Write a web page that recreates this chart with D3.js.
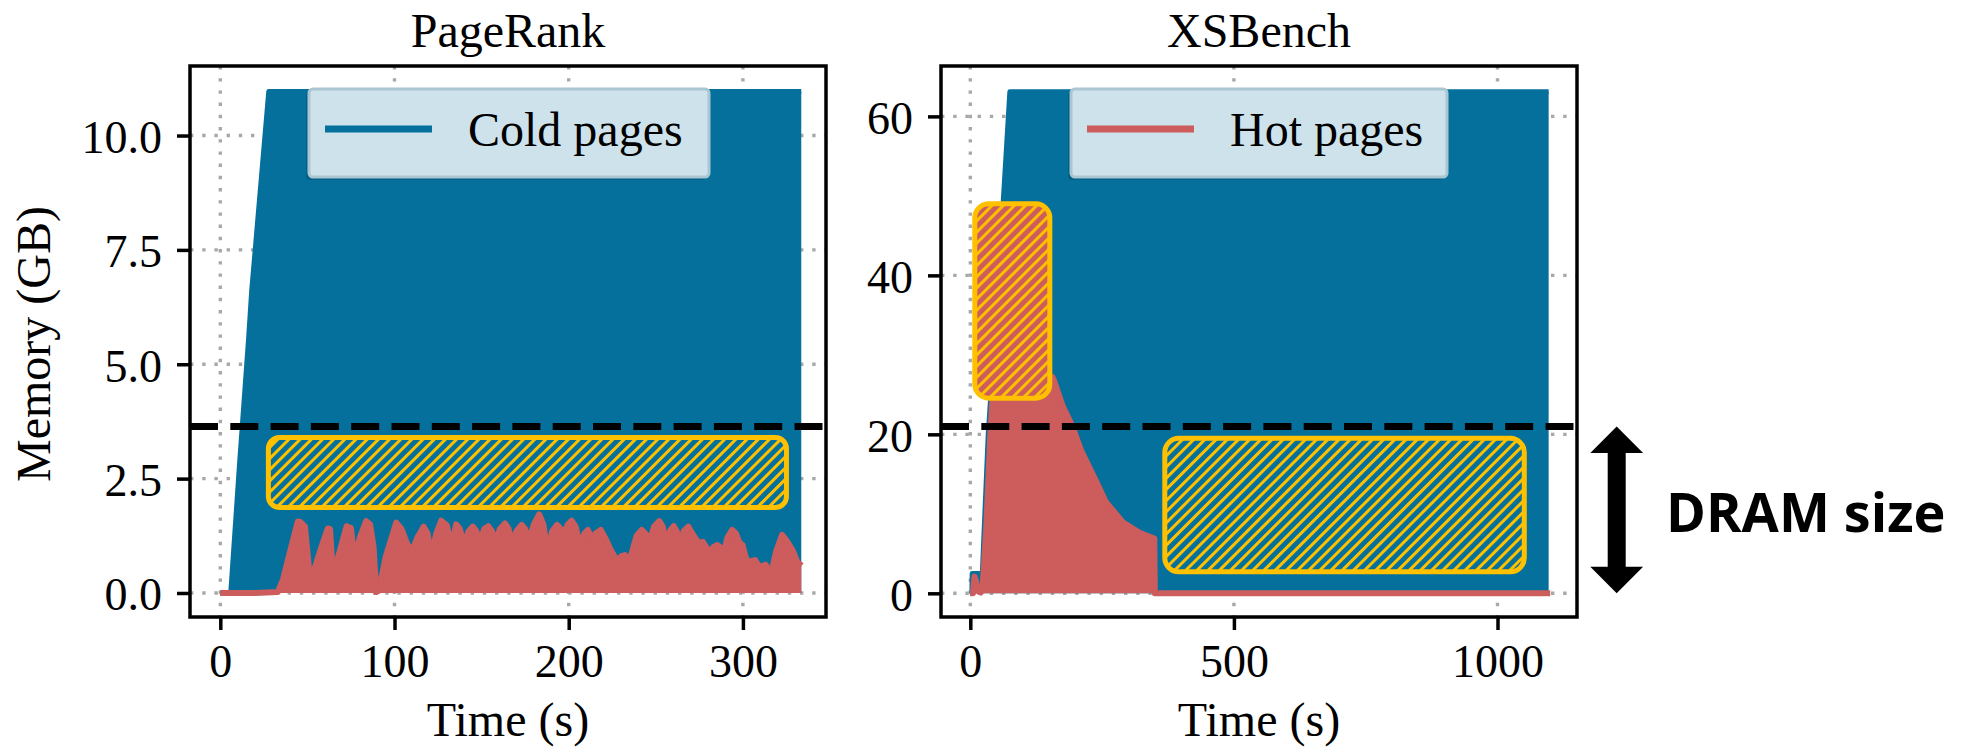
<!DOCTYPE html>
<html><head><meta charset="utf-8">
<script src="https://cdn.jsdelivr.net/npm/d3@7"></script>
<style>html,body{margin:0;padding:0;background:#fff;} svg{display:block}</style>
</head><body>
<svg id="chart" width="1972" height="747"></svg>
<script>
// ---------------- DATA ----------------
const titles = ["PageRank", "XSBench"];
const legendLabels = ["Cold pages", "Hot pages"];
const xLabel = "Time (s)";
const yLabel = "Memory (GB)";
const dramLabel = "DRAM size";

const prXTicks = [0, 100, 200, 300];
const prYTicks = [0, 2.5, 5, 7.5, 10];
const xsXTicks = [0, 500, 1000];
const xsYTicks = [0, 20, 40, 60];

// DRAM size (GB)
const prDram = 3.64;
const xsDram = 21.0;

// PageRank cold pages [time s, GB]
const prCold = [[0,0],[6,0],[11,2.8],[16.3,5.6],[18,6.6],[27.8,10.96],[333.5,10.96]];
// PageRank hot pages [time s, GB]
const prHot = [[0,0],[10,0],[20,0],[33,0.02],[36,0.3],[40,0.9],[44.5,1.56],[46,1.55],[48.6,1.45],[50,0.9],[51.5,0.3],[53,0.4],
 [58,1.0],[61.7,1.41],[63,1.4],[64.5,0.5],[67,0.7],[72.5,1.46],[75,1.42],[77,0.72],[80,1.2],[83.7,1.57],[86,1.5],[88,1.0],
 [89.5,0.02],[91,0.05],[95,0.8],[101,1.54],[104,1.4],[107,1.1],[110,0.9],[113,1.2],[116.7,1.45],[119,1.3],[121,0.8],[124,1.3],
 [126.8,1.58],[130,1.48],[132.8,1.01],[135.4,1.5],[137.5,1.4],[140,1.05],[142.5,1.35],[145,1.45],[147,1.35],[149,1.09],
 [151.5,1.4],[153.8,1.46],[156,1.35],[158,1.09],[160.5,1.4],[163.4,1.52],[165.5,1.4],[167.5,1.05],[170,1.35],[173,1.49],
 [175,1.4],[177,1.12],[180,1.5],[183,1.72],[185.5,1.5],[187.8,0.87],[190.5,1.35],[193.3,1.49],[195.5,1.4],[197.5,1.3],
 [199.5,1.5],[201.7,1.58],[204,1.45],[206.5,1.01],[209,1.3],[211,1.38],[213,1.2],[215.5,1.3],[218.4,1.38],[221,1.2],
 [224,0.95],[228,0.69],[230,0.8],[232.3,0.83],[234,0.7],[236,0.85],[239,1.25],[241.9,1.38],[244,1.3],[246.7,1.16],
 [249,1.45],[252,1.57],[254,1.45],[256,1.01],[258,1.35],[260.3,1.46],[262,1.35],[263.9,1.05],[266,1.35],[268.7,1.45],
 [271,1.3],[274.6,1.09],[277,1.12],[279,1.0],[281,0.87],[283,1.0],[285.4,1.05],[287,1.0],[289,0.87],[291,1.2],[293.8,1.38],
 [296,1.3],[298,1.1],[299.8,1.05],[301.5,0.8],[303.3,0.65],[305,0.7],[307,0.72],[309,0.6],[311,0.58],[313,0.62],[315,0.5],
 [316.5,0.47],[319,0.9],[322.5,1.27],[325,1.15],[328.5,0.94],[331,0.7],[332,0.62],[333.5,0.69]];

// XSBench cold pages
const xsCold = [[0,0],[3,0],[3.5,2.5],[19,2.5],[21,1.0],[22,1.3],[34,20],[54,40],[75,63.1],[1097,63.1]];
// XSBench hot pages
const xsHot = [[0,0],[5,0],[7,1.5],[8,2.1],[11,1.5],[14,0.3],[20,0.1],[23,0.5],[30,8],[38,20],[41.6,24],[50,26.5],[70,27.8],
 [100,28.3],[130,28],[156,27.2],[158,26.9],[175,23.6],[193,21.1],[210,18],[237,14.3],[257,11.5],[290,8.9],[321,7.6],
 [349,6.9],[350,0],[1100,0]];

// Highlight boxes [t0, t1, gb0, gb1]
const prBoxes = [{x0:27.6, x1:325, y0:1.87, y1:3.40, hatch:"cold"}];
const xsBoxes = [{x0:8.5, x1:150.8, y0:24.55, y1:49.0, hatch:"hot"},
                 {x0:368.9, x1:1050.8, y0:2.7, y1:19.5, hatch:"cold"}];

// ---------------- STYLE ----------------
const COLD = "#05709c", HOT = "#cd5c5c", GOLD = "#ffc000";
const SERIF = "'Liberation Serif','Times New Roman',serif";
const TOP = 66, BOTTOM = 617;

const svg = d3.select("#chart");
svg.append("rect").attr("width",1972).attr("height",747).attr("fill","#fff");
const defs = svg.append("defs");
function hatch(id, bg){
  const p = defs.append("pattern").attr("id",id).attr("patternUnits","userSpaceOnUse")
    .attr("width",7.9).attr("height",7.9).attr("patternTransform","rotate(45)");
  p.append("rect").attr("width",7.9).attr("height",7.9).attr("fill",bg);
  p.append("rect").attr("width",3.0).attr("height",7.9).attr("fill",GOLD);
}
hatch("hatch-cold", COLD);
hatch("hatch-hot", HOT);

const panels = [
  {title:titles[0], left:190, right:826, xDomain:[-17.4,347.7], yDomain:[-0.525,11.52],
   xTicks:prXTicks, yTicks:prYTicks, yFmt:d3.format(".1f"), cold:prCold, hot:prHot, dram:prDram,
   legend:{label:legendLabels[0], color:COLD, x0:309, x1:709}, boxes:prBoxes, rx:11, yLabel:true},
  {title:titles[1], left:941, right:1577, xDomain:[-55.6,1150.8], yDomain:[-2.98,66.34],
   xTicks:xsXTicks, yTicks:xsYTicks, yFmt:d3.format("d"), cold:xsCold, hot:xsHot, dram:xsDram,
   legend:{label:legendLabels[1], color:HOT, x0:1071, x1:1447}, boxes:xsBoxes, rx:14, yLabel:false}
];

panels.forEach((p, i) => {
  const x = d3.scaleLinear().domain(p.xDomain).range([p.left, p.right]);
  const y = d3.scaleLinear().domain(p.yDomain).range([BOTTOM, TOP]);
  p.x = x; p.y = y;
  const g = svg.append("g");
  const clipId = "clip" + i;
  defs.append("clipPath").attr("id", clipId).append("rect")
    .attr("x", p.left).attr("y", TOP).attr("width", p.right - p.left).attr("height", BOTTOM - TOP);

  // grid
  const grid = g.append("g").attr("clip-path", `url(#${clipId})`)
    .attr("stroke","#a8a8a8").attr("stroke-width",3.4).attr("stroke-dasharray","3.4,8.8");
  p.xTicks.forEach(t => grid.append("line").attr("x1",x(t)).attr("x2",x(t)).attr("y1",TOP).attr("y2",BOTTOM));
  p.yTicks.forEach(t => grid.append("line").attr("y1",y(t)).attr("y2",y(t)).attr("x1",p.left).attr("x2",p.right));

  const plot = g.append("g").attr("clip-path", `url(#${clipId})`);
  const area = d3.area().x(d => x(d[0])).y0(y(0)).y1(d => y(d[1]));
  const line = d3.line().x(d => x(d[0])).y(d => y(d[1]));
  plot.append("path").datum(p.cold).attr("d", area).attr("fill", COLD);
  plot.append("path").datum(p.cold).attr("d", line).attr("fill","none").attr("stroke",COLD)
    .attr("stroke-width",5).attr("stroke-linejoin","round");
  plot.append("path").datum(p.hot).attr("d", area).attr("fill", HOT);
  plot.append("path").datum(p.hot).attr("d", line).attr("fill","none").attr("stroke",HOT)
    .attr("stroke-width",6).attr("stroke-linejoin","round");

  // DRAM dashed line
  plot.append("line").attr("x1",p.left).attr("x2",p.right).attr("y1",y(p.dram)).attr("y2",y(p.dram))
    .attr("stroke","#000").attr("stroke-width",7).attr("stroke-dasharray","28,12.3");

  // highlight boxes
  p.boxes.forEach(b => {
    plot.append("rect").attr("x", x(b.x0)).attr("y", y(b.y1))
      .attr("width", x(b.x1) - x(b.x0)).attr("height", y(b.y0) - y(b.y1))
      .attr("rx", p.rx).attr("ry", p.rx)
      .attr("fill", `url(#hatch-${b.hatch})`).attr("stroke", GOLD).attr("stroke-width", 5);
  });

  // legend
  const L = p.legend;
  const lg = g.append("g");
  lg.append("rect").attr("x",L.x0-3).attr("y",92).attr("width",L.x1-L.x0).attr("height",88)
    .attr("rx",4).attr("fill","rgba(0,30,50,0.18)");
  lg.append("rect").attr("x",L.x0).attr("y",89).attr("width",L.x1-L.x0).attr("height",88)
    .attr("rx",4).attr("fill","#cde2ea").attr("stroke","#a9c6d1").attr("stroke-width",3);
  lg.append("line").attr("x1",L.x0+16).attr("x2",L.x0+123).attr("y1",129).attr("y2",129)
    .attr("stroke",L.color).attr("stroke-width",7);
  lg.append("text").attr("x",L.x0+159).attr("y",146).text(L.label)
    .attr("font-family",SERIF).attr("font-size",48).attr("fill","#000");

  // frame
  g.append("rect").attr("x",p.left).attr("y",TOP).attr("width",p.right-p.left).attr("height",BOTTOM-TOP)
    .attr("fill","none").attr("stroke","#000").attr("stroke-width",3.5);

  // axes
  const xa = g.append("g").attr("transform",`translate(0,${BOTTOM})`)
    .call(d3.axisBottom(x).tickValues(p.xTicks).tickSize(13).tickFormat(d3.format("d")));
  xa.select(".domain").remove();
  xa.selectAll("line").attr("stroke","#000").attr("stroke-width",3.5);
  xa.selectAll("text").attr("y",60).attr("dy",null).attr("font-family",SERIF).attr("font-size",46).attr("fill","#000");
  const ya = g.append("g").attr("transform",`translate(${p.left},0)`)
    .call(d3.axisLeft(y).tickValues(p.yTicks).tickSize(13).tickFormat(p.yFmt));
  ya.select(".domain").remove();
  ya.selectAll("line").attr("stroke","#000").attr("stroke-width",3.5);
  ya.selectAll("text").attr("x",-28).attr("dy",17).attr("font-family",SERIF).attr("font-size",46).attr("fill","#000");

  const cx = (p.left + p.right) / 2;
  g.append("text").attr("x",cx).attr("y",47).attr("text-anchor","middle").text(p.title)
    .attr("font-family",SERIF).attr("font-size",48);
  g.append("text").attr("x",cx).attr("y",735.5).attr("text-anchor","middle").text(xLabel)
    .attr("font-family",SERIF).attr("font-size",48);
  if (p.yLabel) {
    g.append("text").attr("transform",`translate(50,344) rotate(-90)`).attr("text-anchor","middle")
      .text(yLabel).attr("font-family",SERIF).attr("font-size",48);
  }
});

// DRAM size double arrow (XSBench scale: 0 .. DRAM size)
const p2 = panels[1];
const ax = 1616.7, yt = p2.y(xsDram), yb = p2.y(0), hw = 26.4, hl = 26.6, sw = 9;
svg.append("path").attr("fill","#000").attr("d",
  `M${ax},${yt} L${ax+hw},${yt+hl} L${ax+sw},${yt+hl} L${ax+sw},${yb-hl} L${ax+hw},${yb-hl} L${ax},${yb} ` +
  `L${ax-hw},${yb-hl} L${ax-sw},${yb-hl} L${ax-sw},${yt+hl} L${ax-hw},${yt+hl} Z`);
svg.append("text").attr("x",1666).attr("y",531.7).text(dramLabel)
  .attr("font-family","'Open Sans','Noto Sans',sans-serif").attr("font-weight",700).attr("font-size",54).attr("fill","#000");
</script>
</body></html>
